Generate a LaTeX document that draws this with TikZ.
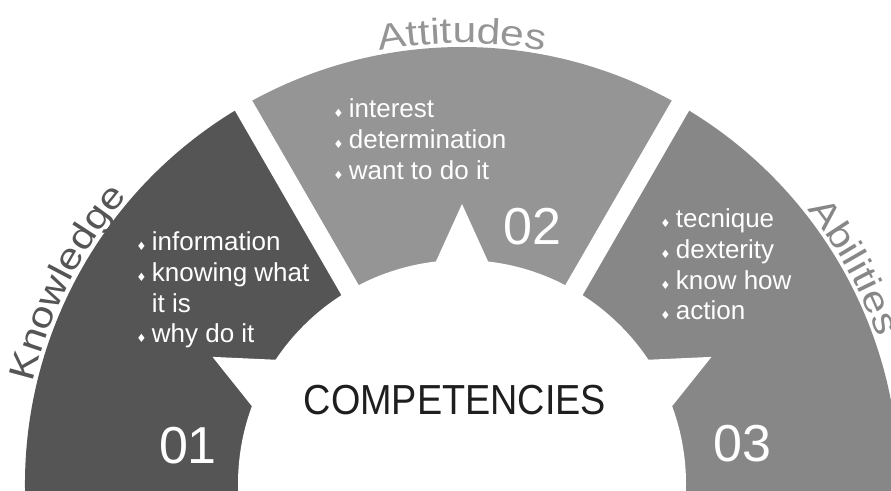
\documentclass[tikz,border=0pt]{standalone}
\usepackage{fontspec}
\setmainfont{Liberation Sans}
\newfontfamily\symfont{DejaVu Sans}
\newfontfamily\narrowfont[FakeStretch=0.9]{Liberation Sans}
\newfontfamily\widefont[FakeStretch=1.18]{Liberation Sans}
\usepackage{xcolor}
\definecolor{knowgray}{HTML}{555555}
\definecolor{attgray}{HTML}{959595}
\definecolor{abilgray}{HTML}{878787}
\definecolor{titleblack}{HTML}{1E1E1E}
\usetikzlibrary{decorations.text}

\newcommand{\dia}{{\symfont\fontsize{6.5}{6.5}\selectfont ♦}\hspace{3pt}}

\begin{document}
\begin{tikzpicture}[x=0.02cm, y=0.02cm,
  listtext/.style={anchor=north west, inner sep=0pt, text=white, align=left,
    font=\fontsize{14.8}{17.6}\selectfont},
  numtext/.style={inner sep=0pt, text=white, font=\fontsize{29.6}{32}\selectfont}]
  \useasboundingbox (0,0) rectangle (891,490);
  \clip (0,0) rectangle (891,490);

  \begin{scope}[shift={(462,6)}]
    % three sectors
    \fill[knowgray] (0,0) -- (190:437) arc[start angle=190, end angle=120, radius=437] -- cycle;
    \fill[attgray] (0,0) -- (120:437) arc[start angle=120, end angle=60, radius=437] -- cycle;
    \fill[abilgray] (0,0) -- (60:437) arc[start angle=60, end angle=-10, radius=437] -- cycle;

    % gaps between sectors
    \draw[white, line width=0.4cm] (0,0) -- (120:470);
    \draw[white, line width=0.4cm] (0,0) -- (60:470);

    % white star in the middle
    \fill[white] (0,0) circle[radius=224];
    \foreach \a in {27,90,153}
      \fill[white] ({\a-7}:222) -- (\a:280) -- ({\a+7}:222) -- cycle;

    % titles along the rim
    \path[decorate, decoration={text along path, text align=center,
        text={|\widefont\fontsize{20.5}{24}\selectfont\color{knowgray}|Knowledge}}]
      (175:441) arc[start angle=175, end angle=131, radius=441];
    \path[decorate, decoration={text along path, text align=center,
        text={|\widefont\fontsize{20.5}{24}\selectfont\color{attgray}|Attitudes}}]
      (125:441) arc[start angle=125, end angle=55, radius=441];
    \path[decorate, decoration={text along path, text align=center,
        text={|\widefont\fontsize{20.5}{24}\selectfont\color{abilgray}|Abilities}}]
      (50:441) arc[start angle=50, end angle=8, radius=441];
  \end{scope}

  % lists
  \node[listtext] (knowlist) at (136,259)
    {\dia information\\\dia knowing what\\\hphantom{\dia}it is\\\dia why do it};
  \node[listtext] (attlist) at (333,392)
    {\dia interest\\\dia determination\\\dia want to do it};
  \node[listtext] (abillist) at (660,282)
    {\dia tecnique\\\dia dexterity\\\dia know how\\\dia action};

  % numbers
  \node[numtext] (num1) at (188,44) {01};
  \node[numtext] (num2) at (532,263) {02};
  \node[numtext] (num3) at (742,46) {03};

  \node[text=titleblack, font=\narrowfont\fontsize{23.9}{26}\selectfont] (title) at (455,90) {COMPETENCIES};
\end{tikzpicture}
\end{document}
